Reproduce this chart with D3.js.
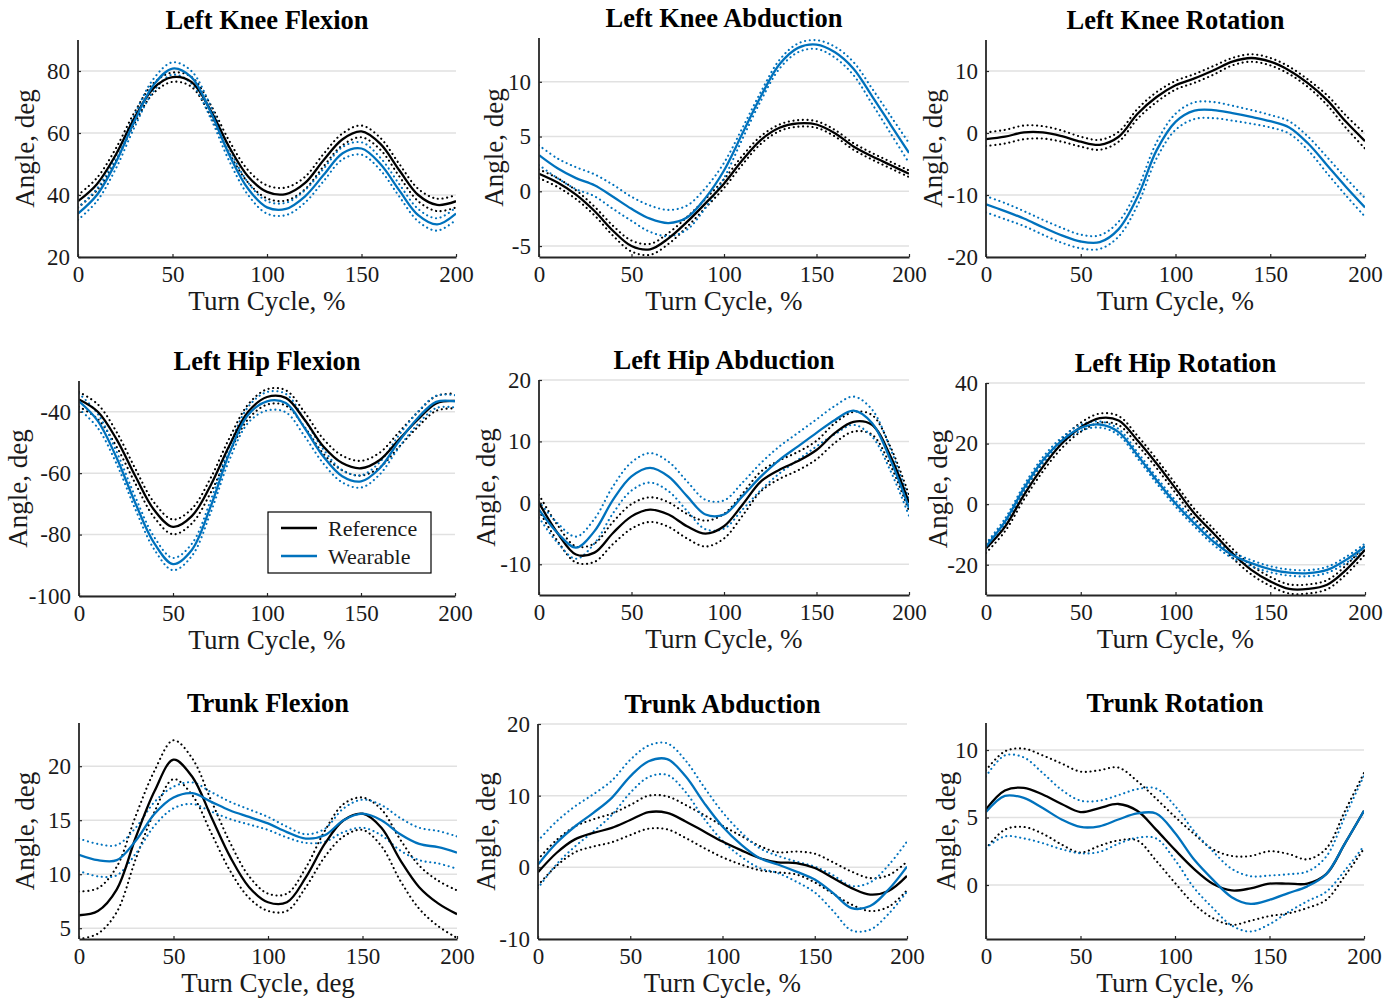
<!DOCTYPE html>
<html>
<head>
<meta charset="utf-8">
<script src="https://cdn.jsdelivr.net/npm/d3@7"></script>
<style>
  html, body { margin: 0; padding: 0; background: #fff; }
  svg text { font-family: "Liberation Serif", "Times New Roman", serif; }
</style>
</head>
<body>
<div id="chart"></div>
<script>
// turn cycle samples, %
const turnCycle = [0, 10, 20, 30, 40, 50, 60, 70, 80, 90, 100, 110, 120, 130, 140, 150, 160, 170, 180, 190, 200];
const xTicks = [0, 50, 100, 150, 200];
const seriesNames = ["Reference", "Wearable"];

// Left knee flexion
const kneeFlexRef = [38, 43.5, 53, 65, 74.5, 78, 76.5, 67.5, 55.5, 46, 41, 40.3, 43.8, 51.3, 58, 60.5, 56.5, 48, 40, 36.8, 38];
const kneeFlexRefSd = [2, 2, 2, 1.8, 1.6, 1.5, 1.6, 1.8, 2, 2, 2.1, 2.1, 2, 2, 1.9, 1.9, 1.9, 2, 2, 2, 2];
const kneeFlexWear = [34, 40, 50.5, 64, 75.5, 80.8, 78, 67, 53, 42, 36, 35.5, 39.5, 46.5, 53.5, 55, 50, 41.5, 33.5, 30.5, 34];
const kneeFlexWearSd = [2, 2, 2, 2, 2, 2, 2, 2, 2, 2, 2, 2, 2, 2, 2, 2, 2, 2, 2, 2, 2];

// Left knee abduction
const kneeAbdRef = [1.6, 0.8, -0.3, -1.8, -3.6, -5.0, -5.3, -4.3, -2.8, -1.1, 0.7, 2.85, 4.7, 5.8, 6.2, 6.1, 5.3, 4.1, 3.2, 2.4, 1.6];
const kneeAbdRefSd = [0.4, 0.4, 0.4, 0.4, 0.45, 0.5, 0.5, 0.5, 0.45, 0.4, 0.4, 0.4, 0.35, 0.3, 0.3, 0.3, 0.3, 0.3, 0.3, 0.3, 0.3];
const kneeAbdWear = [3.3, 2.1, 1.2, 0.55, -0.5, -1.6, -2.5, -2.9, -2.4, -0.6, 1.9, 5.3, 8.7, 11.6, 13.1, 13.4, 12.7, 11.2, 8.7, 6.1, 3.5];
const kneeAbdWearSd = [0.9, 0.9, 1.0, 1.0, 1.1, 1.1, 1.2, 1.2, 1.1, 0.9, 0.7, 0.5, 0.4, 0.4, 0.4, 0.4, 0.5, 0.6, 0.7, 0.8, 0.9];

// Left knee rotation
const kneeRotRef = [-1, -0.6, 0.1, 0.1, -0.5, -1.4, -1.9, -0.6, 3.1, 5.8, 7.7, 8.8, 10.1, 11.5, 12.1, 11.5, 10.1, 8, 5.3, 1.8, -1.3];
const kneeRotRefSd = [1.1, 1.1, 1.1, 1.0, 0.9, 0.8, 0.8, 0.8, 0.8, 0.8, 0.7, 0.7, 0.7, 0.6, 0.6, 0.6, 0.6, 0.6, 0.8, 1.0, 1.2];
const kneeRotWear = [-11.5, -12.6, -13.8, -15.2, -16.5, -17.5, -17.6, -15.5, -10.3, -2.8, 1.8, 3.6, 3.7, 3.2, 2.6, 1.9, 0.9, -1.7, -5.2, -8.7, -12];
const kneeRotWearSd = [1.3, 1.3, 1.2, 1.2, 1.2, 1.1, 1.1, 1.2, 1.3, 1.3, 1.3, 1.35, 1.3, 1.2, 1.1, 1.0, 1.0, 1.1, 1.3, 1.4, 1.5];

// Left hip flexion
const hipFlexRef = [-36, -40, -49, -61, -72, -77.5, -74, -64, -51, -40, -35.2, -35.5, -42.6, -51.3, -56.7, -58.4, -55.7, -49.2, -42.7, -37.3, -36.5];
const hipFlexRefSd = [2.4, 2.4, 2.4, 2.4, 2.4, 2.4, 2.4, 2.4, 2.4, 2.4, 2.5, 2.5, 2.4, 2.4, 2.4, 2.4, 2.4, 2.4, 2.4, 2.4, 2.4];
const hipFlexWear = [-36.6, -43, -55, -69.8, -82.8, -89.6, -85, -70.9, -53.5, -41, -36.6, -37.2, -45.3, -54.6, -61, -62.7, -58.4, -49.8, -42.2, -36.8, -36.6];
const hipFlexWearSd = [2.5, 2.3, 2, 2, 2, 2, 2, 2, 2.2, 2.6, 3, 3, 2.7, 2.3, 2, 2, 2, 2, 2, 2, 2];

// Left hip abduction
const hipAbdRef = [0, -4.9, -8.4, -8.1, -4.9, -2.2, -1.1, -1.9, -3.8, -5.0, -3.8, -0.3, 3.5, 5.4, 6.8, 8.6, 11.4, 13.2, 12.7, 7.6, 0];
const hipAbdRefSd = [1.3, 1.3, 1.3, 1.5, 1.8, 2, 2, 2, 2, 2.1, 2, 1.8, 1.6, 1.5, 1.5, 1.5, 1.6, 1.6, 1.6, 1.5, 1.3];
const hipAbdWear = [-1.1, -4.9, -7.3, -4.6, 0.5, 4.3, 5.7, 4.3, 1.1, -1.9, -1.9, 1.1, 4.3, 7.0, 9.2, 11.4, 13.5, 15.0, 13, 7, -0.8];
const hipAbdWearSd = [1.3, 1.6, 1.8, 2, 2.2, 2.3, 2.4, 2.4, 2.4, 2.4, 2.3, 2.2, 2.2, 2.2, 2.2, 2.2, 2.3, 2.3, 2.2, 1.8, 1.3];

// Left hip rotation
const hipRotRef = [-14.6, -7.5, 3, 12.3, 20, 25.4, 28.4, 27.6, 21, 13.4, 5.2, -3.1, -9.6, -16.2, -21.7, -25.5, -28, -28, -26.6, -21.7, -15.1];
const hipRotRefSd = [1.5, 1.5, 1.5, 1.5, 1.5, 1.5, 1.5, 1.5, 1.5, 1.5, 1.5, 1.5, 1.5, 1.5, 1.5, 1.5, 1.5, 1.5, 1.5, 1.5, 1.5];
const hipRotWear = [-14, -5.8, 5.2, 14.5, 21, 25.2, 26.3, 23.8, 16.1, 7.9, 0.2, -6.4, -12.4, -16.8, -19.5, -21.5, -22.6, -22.8, -21.7, -18.4, -14];
const hipRotWearSd = [1, 1, 1, 1, 1, 1, 1, 1, 1, 1, 1, 1, 1, 1, 1, 1, 1, 1, 1, 1, 1];

// Trunk flexion
const trunkFlexRef = [6.2, 6.6, 8.6, 13.4, 17.7, 20.6, 19, 15.3, 11.6, 8.8, 7.4, 7.4, 9.7, 12.8, 15, 15.6, 14.3, 11.3, 8.8, 7.3, 6.3];
const trunkFlexRefSd = [2.2, 2.1, 2.1, 2.0, 1.9, 1.8, 1.7, 1.5, 1.3, 1.0, 0.8, 0.8, 0.9, 1.2, 1.5, 1.5, 1.7, 1.9, 2.0, 2.1, 2.2];
const trunkFlexWear = [11.8, 11.3, 11.3, 13.1, 15.6, 17.1, 17.5, 16.7, 15.9, 15.3, 14.7, 13.9, 13.3, 13.6, 15, 15.6, 15, 13.7, 12.8, 12.5, 12];
const trunkFlexWearSd = [1.5, 1.5, 1.4, 1.2, 1.1, 1.0, 1.0, 0.9, 0.8, 0.7, 0.6, 0.5, 0.4, 0.6, 1.1, 1.3, 1.4, 1.5, 1.5, 1.5, 1.5];

// Trunk abduction
const trunkAbdRef = [-0.7, 2, 3.9, 4.8, 5.5, 6.6, 7.7, 7.6, 6.4, 5.0, 3.6, 2.4, 1.3, 0.7, 0.6, -0.1, -1.5, -2.9, -3.8, -3.3, -1.2];
const trunkAbdRefSd = [1.8, 1.8, 1.8, 1.9, 2.0, 2.1, 2.3, 2.3, 2.3, 2.3, 2.2, 2.0, 1.7, 1.4, 1.6, 2.0, 2.2, 2.3, 2.3, 2.2, 2.0];
const trunkAbdWear = [0.4, 3.4, 5.7, 7.6, 9.7, 12.7, 14.8, 15.1, 12.7, 9, 5.7, 3.2, 1.3, 0.4, -0.6, -1.7, -3.6, -5.7, -5.4, -3.1, 0.1];
const trunkAbdWearSd = [3.3, 3.0, 2.8, 2.6, 2.4, 2.3, 2.2, 2.2, 2.2, 2.2, 2.0, 1.7, 1.4, 1.2, 1.4, 1.8, 2.5, 3.1, 3.3, 3.4, 3.5];

// Trunk rotation
const trunkRotRef = [5.6, 7.0, 7.2, 6.7, 6.0, 5.4, 5.7, 6.0, 5.5, 4.1, 2.6, 1.2, 0.1, -0.4, -0.25, 0.1, 0.1, 0.1, 0.8, 3.1, 5.5];
const trunkRotRefSd = [2.9, 2.9, 2.9, 2.9, 3.0, 3.0, 2.8, 2.7, 2.2, 2.3, 2.45, 2.6, 2.55, 2.55, 2.4, 2.4, 2.2, 1.8, 1.9, 2.4, 2.8];
const trunkRotWear = [5.4, 6.6, 6.45, 5.7, 4.85, 4.3, 4.35, 4.85, 5.3, 5.3, 3.85, 1.9, 0.4, -0.9, -1.4, -1.1, -0.6, -0.1, 0.8, 3.1, 5.5];
const trunkRotWearSd = [2.65, 3.0, 3.0, 2.6, 2.2, 1.95, 1.9, 1.8, 1.8, 1.85, 2.0, 2.1, 2.1, 2.1, 2.05, 1.8, 1.4, 1.1, 1.3, 2.0, 2.6];

const refColor = "#000000";
const wearColor = "#0072BD";

// panel layout (pixel box of each axes) and y settings
const panels = [
    { title: "Left Knee Flexion", xLabel: "Turn Cycle, %", box: [78, 40, 456, 257], yDomain: [20, 90], yTicks: [20, 40, 60, 80], ylOff: 44, ref: kneeFlexRef, refSd: kneeFlexRefSd, wear: kneeFlexWear, wearSd: kneeFlexWearSd },
    { title: "Left Knee Abduction", xLabel: "Turn Cycle, %", box: [539, 38, 909, 257], yDomain: [-6, 14], yTicks: [-5, 0, 5, 10], ylOff: 36, ref: kneeAbdRef, refSd: kneeAbdRefSd, wear: kneeAbdWear, wearSd: kneeAbdWearSd },
    { title: "Left Knee Rotation", xLabel: "Turn Cycle, %", box: [986, 40, 1365, 257], yDomain: [-20, 15], yTicks: [-20, -10, 0, 10], ylOff: 44, ref: kneeRotRef, refSd: kneeRotRefSd, wear: kneeRotWear, wearSd: kneeRotWearSd },
    { title: "Left Hip Flexion", xLabel: "Turn Cycle, %", box: [79, 381, 455, 596], yDomain: [-100, -30], yTicks: [-100, -80, -60, -40], ylOff: 52, ref: hipFlexRef, refSd: hipFlexRefSd, wear: hipFlexWear, wearSd: hipFlexWearSd, legend: true },
    { title: "Left Hip Abduction", xLabel: "Turn Cycle, %", box: [539, 380, 909, 595], yDomain: [-15, 20], yTicks: [-10, 0, 10, 20], ylOff: 44, ref: hipAbdRef, refSd: hipAbdRefSd, wear: hipAbdWear, wearSd: hipAbdWearSd },
    { title: "Left Hip Rotation", xLabel: "Turn Cycle, %", box: [986, 383, 1365, 595], yDomain: [-30, 40], yTicks: [-20, 0, 20, 40], ylOff: 39, ref: hipRotRef, refSd: hipRotRefSd, wear: hipRotWear, wearSd: hipRotWearSd },
    { title: "Trunk Flexion", xLabel: "Turn Cycle, deg", box: [79, 723, 457, 939], yDomain: [4, 24], yTicks: [5, 10, 15, 20], ylOff: 45, ref: trunkFlexRef, refSd: trunkFlexRefSd, wear: trunkFlexWear, wearSd: trunkFlexWearSd },
    { title: "Trunk Abduction", xLabel: "Turn Cycle, %", box: [538, 724, 907, 939], yDomain: [-10, 20], yTicks: [-10, 0, 10, 20], ylOff: 43, ref: trunkAbdRef, refSd: trunkAbdRefSd, wear: trunkAbdWear, wearSd: trunkAbdWearSd },
    { title: "Trunk Rotation", xLabel: "Turn Cycle, %", box: [986, 723, 1364, 939], yDomain: [-4, 12], yTicks: [0, 5, 10], ylOff: 31, ref: trunkRotRef, refSd: trunkRotRefSd, wear: trunkRotWear, wearSd: trunkRotWearSd }
];

const svg = d3.select("#chart")
    .append("svg")
    .attr("width", 1398)
    .attr("height", 999);

panels.forEach((p, i) => {
    const [x0, y0, x1, y1] = p.box;
    const x = d3.scaleLinear().domain([0, 200]).range([x0, x1]);
    const y = d3.scaleLinear().domain(p.yDomain).range([y1, y0]);

    // grid lines
    svg.append("g")
        .selectAll("line")
        .data(p.yTicks)
        .join("line")
        .attr("x1", x0).attr("x2", x1)
        .attr("y1", d => y(d)).attr("y2", d => y(d))
        .attr("stroke", "#e1e1e1")
        .attr("stroke-width", 1.5);

    svg.append("clipPath")
        .attr("id", "clip" + i)
        .append("rect")
        .attr("x", x0).attr("y", y0)
        .attr("width", x1 - x0).attr("height", y1 - y0);

    const plot = svg.append("g").attr("clip-path", `url(#clip${i})`);

    const line = d3.line()
        .x((d, j) => x(turnCycle[j]))
        .y(d => y(d))
        .curve(d3.curveCatmullRom.alpha(0.5));

    const groups = [
        { mean: p.ref, sd: p.refSd, color: refColor },
        { mean: p.wear, sd: p.wearSd, color: wearColor }
    ];

    // dotted +/- sd bounds first, then the means on top
    groups.forEach(g => {
        const upper = g.mean.map((m, j) => m + g.sd[j]);
        const lower = g.mean.map((m, j) => m - g.sd[j]);
        [upper, lower].forEach(b => {
            plot.append("path")
                .attr("d", line(b))
                .attr("fill", "none")
                .attr("stroke", g.color)
                .attr("stroke-width", 2.1)
                .attr("stroke-linecap", "round")
                .attr("stroke-dasharray", "0.1 4.6");
        });
    });
    groups.forEach(g => {
        plot.append("path")
            .attr("d", line(g.mean))
            .attr("fill", "none")
            .attr("stroke", g.color)
            .attr("stroke-width", 2.3);
    });

    // axes (plain hyphen minus like the original)
    const fmt = d => String(d);
    const xAxis = svg.append("g")
        .attr("transform", `translate(0,${y1})`)
        .call(d3.axisBottom(x).tickValues(xTicks).tickFormat(fmt).tickSize(-3).tickSizeOuter(0).tickPadding(9));
    const yAxis = svg.append("g")
        .attr("transform", `translate(${x0},0)`)
        .call(d3.axisLeft(y).tickValues(p.yTicks).tickFormat(fmt).tickSize(-3).tickSizeOuter(0).tickPadding(8));

    [xAxis, yAxis].forEach(a => {
        a.select(".domain").attr("stroke", "#262626").attr("stroke-width", 1.8);
        a.selectAll(".tick line").attr("stroke", "#262626").attr("stroke-width", 1.2);
        a.selectAll(".tick text")
            .attr("fill", "#1a1a1a")
            .style("font-size", "23px")
            .style("font-family", "Liberation Serif");
    });
    // y axis line spans the full range incl. top
    yAxis.select(".domain").attr("d", `M0,${y1}V${y0}`);

    // labels
    svg.append("text")
        .attr("x", (x0 + x1) / 2)
        .attr("y", y1 + 53)
        .attr("text-anchor", "middle")
        .attr("fill", "#1a1a1a")
        .style("font-size", "27px")
        .text(p.xLabel);

    svg.append("text")
        .attr("transform", `translate(${x0 - p.ylOff},${(y0 + y1) / 2}) rotate(-90)`)
        .attr("text-anchor", "middle")
        .attr("fill", "#1a1a1a")
        .style("font-size", "27px")
        .text("Angle, deg");

    svg.append("text")
        .attr("x", (x0 + x1) / 2)
        .attr("y", y0 - 11)
        .attr("text-anchor", "middle")
        .attr("font-weight", "bold")
        .attr("fill", "#000")
        .style("font-size", "26.5px")
        .text(p.title);

    if (p.legend) {
        const lg = svg.append("g").attr("transform", `translate(${x0 + 189},${y0 + 131})`);
        lg.append("rect")
            .attr("x", 0).attr("y", 0)
            .attr("width", 163).attr("height", 61)
            .attr("fill", "#fff")
            .attr("stroke", "#000")
            .attr("stroke-width", 1.2);
        seriesNames.forEach((name, k) => {
            lg.append("line")
                .attr("x1", 13).attr("x2", 49)
                .attr("y1", 16 + k * 28).attr("y2", 16 + k * 28)
                .attr("stroke", k === 0 ? refColor : wearColor)
                .attr("stroke-width", 2.5);
            lg.append("text")
                .attr("x", 60)
                .attr("y", 24 + k * 28)
                .attr("fill", "#1a1a1a")
                .style("font-size", "22px")
                .text(name);
        });
    }
});
</script>
</body>
</html>
